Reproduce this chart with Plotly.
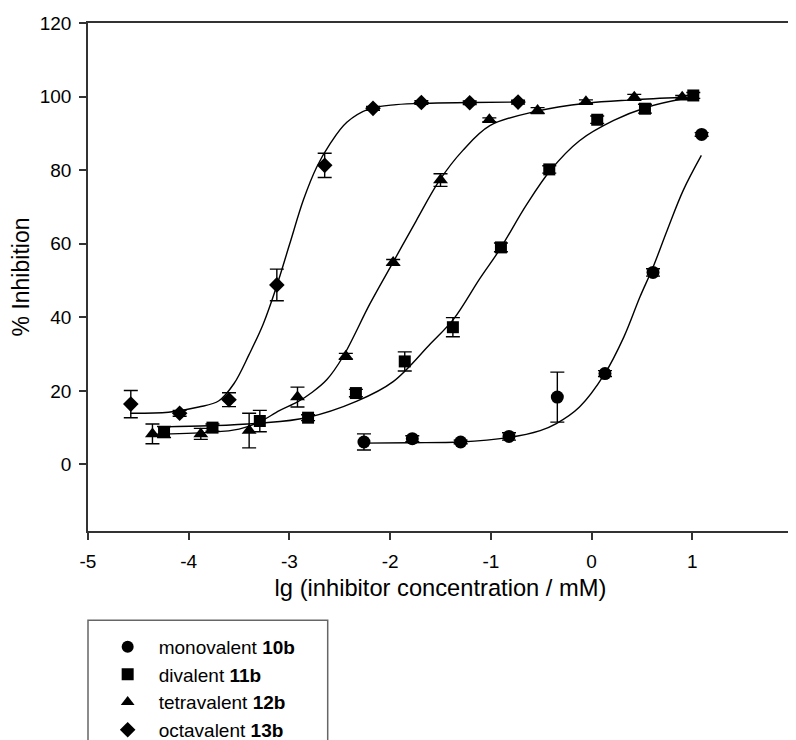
import plotly.graph_objects as go

# ---------------- data ----------------
series_names = ["monovalent <b>10b</b>", "divalent <b>11b</b>",
                "tetravalent <b>12b</b>", "octavalent <b>13b</b>"]

mono_x = [-2.26, -1.78, -1.30, -0.82, -0.34, 0.133, 0.61, 1.093]
mono_y = [6.1, 7.0, 6.1, 7.6, 18.3, 24.7, 52.2, 89.7]
mono_err = [2.2, 0.8, 0.5, 1.0, 6.8, 0.8, 1.0, 0.5]

di_x = [-4.245, -3.764, -3.294, -2.815, -2.34, -1.855, -1.377, -0.90, -0.42, 0.056, 0.53, 1.01]
di_y = [8.8, 10.0, 11.8, 12.7, 19.4, 28.0, 37.3, 59.0, 80.2, 93.7, 96.7, 100.3]
di_err = [1.5, 1.0, 2.9, 0.8, 1.0, 2.6, 2.6, 1.2, 1.0, 1.0, 1.2, 0.8]

tetra_x = [-4.36, -3.88, -3.40, -2.92, -2.44, -1.97, -1.50, -1.015, -0.536, -0.056, 0.424, 0.90]
tetra_y = [8.3, 8.3, 9.2, 18.3, 29.4, 54.9, 77.3, 93.7, 96.2, 98.6, 99.8, 99.8]
tetra_err = [2.7, 1.5, 4.7, 2.7, 0.8, 0.8, 1.7, 0.5, 0.8, 0.5, 0.8, 0.5]

octa_x = [-4.575, -4.09, -3.60, -3.125, -2.65, -2.17, -1.69, -1.21, -0.73]
octa_y = [16.4, 13.9, 17.6, 48.8, 81.3, 96.8, 98.4, 98.3, 98.5]
octa_err = [3.7, 0.8, 1.9, 4.3, 3.3, 0.5, 0.5, 0.5, 0.5]

# fitted sigmoid curves
mono_fit_x = [-2.26, -1.8, -1.3, -0.83, -0.51, -0.35, -0.12, 0.13, 0.32, 0.48, 0.61, 0.75, 0.91, 1.09]
mono_fit_y = [5.8, 5.9, 6.1, 7.3, 9.2, 11.1, 15.6, 24.6, 34.6, 45.5, 53.6, 63.6, 74.5, 84.0]

di_fit_x = [-4.25, -3.8, -3.3, -2.83, -2.33, -1.97, -1.6, -1.37, -1.11, -0.91, -0.65, -0.41, -0.12, 0.22, 0.55, 0.91, 1.01]
di_fit_y = [10.2, 10.5, 11.2, 12.7, 17.2, 22.5, 32.8, 39.5, 50.5, 58.5, 70.4, 79.9, 88.0, 93.5, 97.1, 99.4, 99.8]

tetra_fit_x = [-4.36, -3.8, -3.5, -3.3, -3.1, -2.92, -2.77, -2.63, -2.47, -2.2, -1.97, -1.74, -1.51, -1.28, -1.01, -0.55, -0.05, 0.41, 0.90]
tetra_fit_y = [8.2, 8.7, 9.6, 11.5, 14.6, 17.0, 19.7, 23.0, 29.2, 43.7, 55.0, 66.3, 77.2, 85.3, 92.1, 96.0, 98.2, 99.1, 99.8]

octa_fit_x = [-4.58, -4.2, -3.9, -3.7, -3.55, -3.4, -3.26, -3.13, -3.0, -2.86, -2.73, -2.6, -2.43, -2.2, -1.94, -1.6, -1.2, -0.73]
octa_fit_y = [13.9, 14.2, 15.6, 17.3, 22.0, 29.9, 38.2, 48.2, 59.7, 72.0, 80.8, 87.0, 93.0, 96.7, 97.8, 98.2, 98.4, 98.5]

x_tick_vals = [-5, -4, -3, -2, -1, 0, 1, 2]
x_tick_labels = ["-5", "-4", "-3", "-2", "-1", "0", "1", "2"]
y_tick_vals = [0, 20, 40, 60, 80, 100, 120]
y_tick_labels = ["0", "20", "40", "60", "80", "100", "120"]

x_title = "lg (inhibitor concentration / mM)"
y_title = "% Inhibition"

# ---------------- figure ----------------
FONT = "Liberation Sans, Arial, sans-serif"
AX = "#333333"

series = [
    (mono_x, mono_y, mono_err, mono_fit_x, mono_fit_y, "circle", 13),
    (di_x, di_y, di_err, di_fit_x, di_fit_y, "square", 12),
    (tetra_x, tetra_y, tetra_err, tetra_fit_x, tetra_fit_y, "triangle-up", 13),
    (octa_x, octa_y, octa_err, octa_fit_x, octa_fit_y, "diamond", 12),
]

fig = go.Figure()

for name, (xs, ys, es, fx, fy, sym, sz) in zip(series_names, series):
    fig.add_trace(go.Scatter(
        x=fx, y=fy, mode="lines", line=dict(color="black", width=1.4, shape="spline", smoothing=1.0),
        showlegend=False, hoverinfo="skip"))

for name, (xs, ys, es, fx, fy, sym, sz) in zip(series_names, series):
    fig.add_trace(go.Scatter(
        x=xs, y=ys, mode="markers", name=name,
        marker=dict(symbol=sym, size=sz, color="black", line=dict(width=0)),
        error_y=dict(type="data", array=es, visible=True, color="black", thickness=1.4, width=7)))

fig.add_shape(type="rect", xref="paper", yref="paper",
              x0=0.0, x1=0.340, y0=-0.1758, y1=-0.45,
              line=dict(color="#666666", width=1.5), fillcolor="rgba(0,0,0,0)")

fig.update_layout(
    width=788, height=732,
    margin=dict(l=80, r=3, t=15, b=209, autoexpand=False),
    paper_bgcolor="white", plot_bgcolor="white",
    font=dict(family=FONT, size=19, color="black"),
    showlegend=True,
    legend=dict(x=0.0123, y=-0.1906, xanchor="left", yanchor="top",
                bgcolor="rgba(0,0,0,0)", borderwidth=0,
                font=dict(family=FONT, size=19, color="black"),
                tracegroupgap=0, itemsizing="constant", itemwidth=52),
    xaxis=dict(range=[-5, 2], tickvals=x_tick_vals, ticktext=x_tick_labels,
               showline=True, linecolor=AX, linewidth=1.5, mirror=True,
               ticks="outside", ticklen=7, tickwidth=1.5, tickcolor=AX,
               showgrid=False, zeroline=False, automargin=False,
               ticklabeloverflow="allow", ticklabelstandoff=5,
               tickfont=dict(family=FONT, size=19, color="black"),
               title=dict(text=x_title, font=dict(family=FONT, size=23.7, color="black"), standoff=9)),
    yaxis=dict(range=[-18.1, 120], tickvals=y_tick_vals, ticktext=y_tick_labels,
               showline=True, linecolor=AX, linewidth=1.5, mirror=True,
               ticks="outside", ticklen=7, tickwidth=1.5, tickcolor=AX,
               showgrid=False, zeroline=False, automargin=False,
               ticklabeloverflow="allow", ticklabelstandoff=4,
               tickfont=dict(family=FONT, size=19, color="black"),
               title=dict(text=y_title, font=dict(family=FONT, size=23, color="black"), standoff=4)),
)

fig.write_html("out.html")
